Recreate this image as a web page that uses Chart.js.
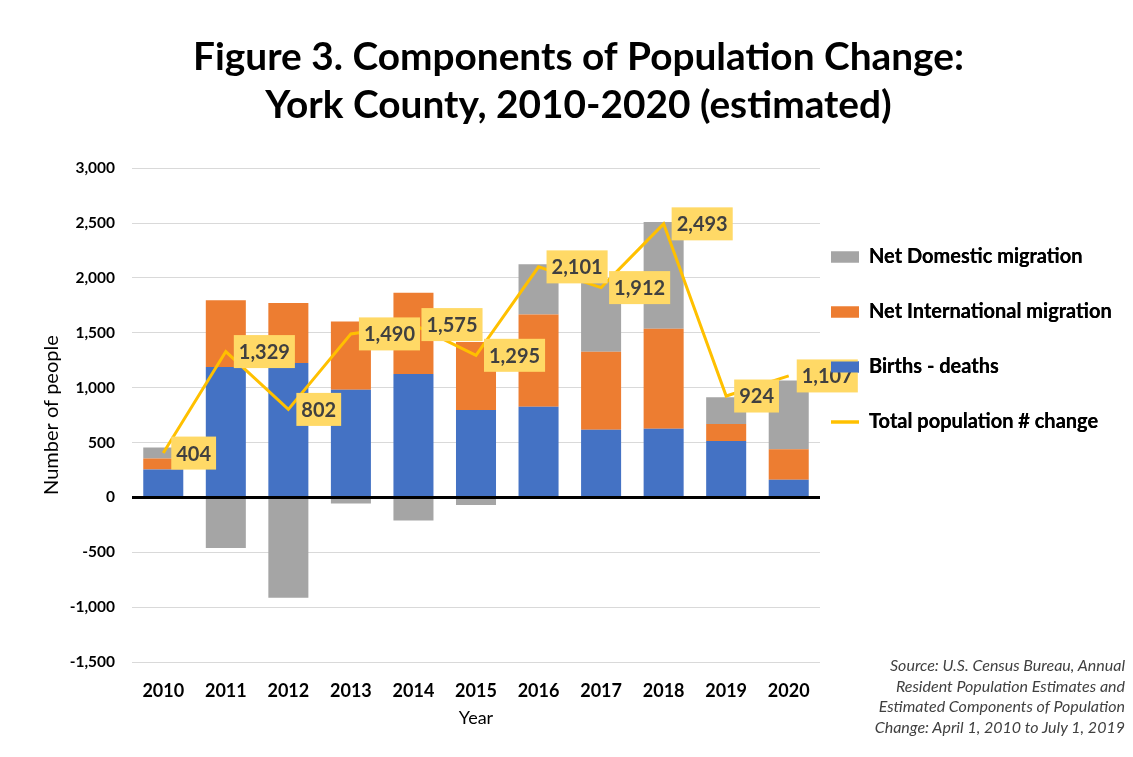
<!DOCTYPE html>
<html>
<head>
<meta charset="utf-8">
<title>Components of Population Change: York County</title>
<script src="https://cdn.jsdelivr.net/npm/chart.js@4.4.1/dist/chart.umd.min.js"></script>
<style>
	html, body { margin: 0; padding: 0; background: #fff; }
	#wrap { position: relative; width: 1133px; height: 757px; }
	#source {
		position: absolute; right: 8px; top: 655px;
		text-align: right; font: italic 16px Lato, sans-serif;
		line-height: 20.7px; color: #404040;
	}
</style>
</head>
<body>
<div id="wrap">
	<canvas id="chartComponents"></canvas>
	<div id="source">Source: U.S. Census Bureau, Annual<br>Resident Population Estimates and<br>Estimated Components of Population<br>Change: April 1, 2010 to July 1, 2019</div>
</div>
<script>
const years = ['2010', '2011', '2012', '2013', '2014', '2015', '2016', '2017', '2018', '2019', '2020']
const birthsDeaths = [255, 1188, 1224, 982, 1124, 796, 827, 617, 626, 513, 161]
const netInternational = [100, 608, 547, 622, 742, 620, 841, 711, 912, 155, 279]
const netDomestic = [100, -462, -914, -55, -210, -70, 456, 660, 972, 245, 625]
const totalChange = [404, 1329, 802, 1490, 1575, 1295, 2101, 1912, 2493, 924, 1107]
const yMin = -1500
const yMax = 3000
const yStep = 500

Chart.defaults.font.family = 'Lato'

// boxed value labels to the right of each point on the total line
const totalLabels = {
	id: 'totalLabels',
	afterDatasetsDraw(chart) {
		const meta = chart.getDatasetMeta(3)
		const ctx = chart.ctx
		ctx.save()
		ctx.font = 'bold 20px Lato'
		ctx.textBaseline = 'middle'
		meta.data.forEach((pt, i) => {
			const text = totalChange[i].toLocaleString('en-US')
			const w = ctx.measureText(text).width + 10
			const h = 33
			const x = pt.x + 8
			ctx.fillStyle = '#FFD966'
			ctx.fillRect(x, pt.y - h / 2, w, h)
			ctx.fillStyle = '#404040'
			ctx.fillText(text, x + 5, pt.y + 1)
		})
		ctx.restore()
	},
	// legend sits above the labels in the original
	afterDraw(chart) {
		chart.legend.draw()
	},
}

// move the legend column next to the plot, like the Excel layout
const legendPlace = {
	id: 'legendPlace',
	afterLayout(chart) {
		const lg = chart.legend
		lg.left = chart.chartArea.right + 11 - lg.options.labels.padding
		lg.top = 212
	},
}

const legendOrder = [2, 1, 0, 3]

const ctx = document.getElementById('chartComponents').getContext('2d')
const chartComponents = new Chart(ctx, {
	type: 'bar',
	data: {
		labels: years,
		datasets: [
			{
				label: 'Births - deaths',
				data: birthsDeaths,
				backgroundColor: '#4472C4',
				pointStyle: 'rect',
				order: 1,
			},
			{
				label: 'Net International migration',
				data: netInternational,
				backgroundColor: '#ED7D31',
				pointStyle: 'rect',
				order: 1,
			},
			{
				label: 'Net Domestic migration',
				data: netDomestic,
				backgroundColor: '#A5A5A5',
				pointStyle: 'rect',
				order: 1,
			},
			{
				type: 'line',
				label: 'Total population # change',
				data: totalChange,
				borderColor: '#FFC000',
				backgroundColor: '#FFC000',
				borderWidth: 3,
				pointRadius: 0,
				pointStyle: 'line',
				tension: 0,
				stack: 'total',
				order: 0,
			},
		],
	},
	options: {
		responsive: true,
		maintainAspectRatio: false,
		animation: false,
		datasets: {
			bar: { barPercentage: 0.64, categoryPercentage: 1 },
		},
		layout: { padding: { left: 24, right: 0, top: 0, bottom: 24 } },
		scales: {
			x: {
				stacked: true,
				afterFit: (scale) => { scale.height = 71 },
				grid: { display: false, drawTicks: false },
				border: { display: false },
				ticks: { color: '#000', font: { size: 18, weight: 'bold' }, padding: 18 },
				title: { display: true, text: 'Year', color: '#000', font: { size: 18 }, padding: { top: 7, bottom: 4 } },
			},
			y: {
				stacked: true,
				min: yMin,
				max: yMax,
				afterFit: (scale) => { scale.width = 108 },
				grid: {
					drawTicks: false,
					color: (c) => (c.tick.value === 0 ? '#000' : '#d9d9d9'),
					lineWidth: (c) => (c.tick.value === 0 ? 3 : 1),
				},
				border: { display: false },
				ticks: {
					stepSize: yStep,
					color: '#000',
					padding: 17,
					font: { size: 15.5, weight: 'bold' },
					callback: (value) => value.toLocaleString('en-US'),
				},
				title: { display: true, text: 'Number of people', color: '#000', font: { size: 20 }, padding: { top: 16, bottom: 4 } },
			},
		},
		plugins: {
			title: {
				display: true,
				text: ['Figure 3. Components of Population Change:', 'York County, 2010-2020 (estimated)'],
				color: '#000',
				font: { size: 38.8, weight: 'bold', lineHeight: 1.24 },
				padding: { top: 33, bottom: 39 },
			},
			legend: {
				display: true,
				position: 'right',
				align: 'start',
				maxWidth: 313,
				labels: {
					color: '#000',
					font: { size: 20, weight: 'bold' },
					usePointStyle: true,
					pointStyleWidth: 28,
					boxHeight: 11,
					padding: 35,
					sort: (a, b) => legendOrder.indexOf(a.datasetIndex) - legendOrder.indexOf(b.datasetIndex),
				},
			},
			tooltip: { mode: 'index', intersect: false },
		},
	},
	plugins: [totalLabels, legendPlace],
})
</script>
</body>
</html>
